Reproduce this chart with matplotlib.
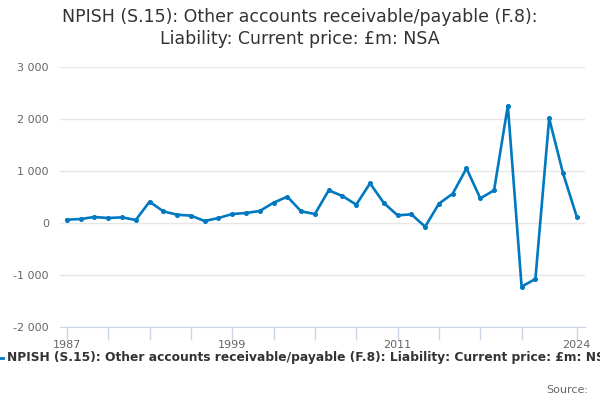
import matplotlib
matplotlib.use('Agg')
import matplotlib.pyplot as plt
from matplotlib.ticker import FuncFormatter

years = list(range(1987, 2025))
values = [64, 77, 115, 96, 109, 58, 410, 224, 160, 141,
          38, 96, 173, 192, 231, 391, 506, 224, 173, 628,
          519, 353, 763, 385, 147, 167, -71, 372, 564, 1051,
          474, 628, 2256, -1224, -1077, 2013, 962, 122]

tick_years = list(range(1987, 2021, 3)) + [2024]
label_years = [1987, 1999, 2011, 2024]

title = 'NPISH (S.15): Other accounts receivable/payable (F.8):\nLiability: Current price: £m: NSA'
series_name = 'NPISH (S.15): Other accounts receivable/payable (F.8): Liability: Current price: £m: NSA'

line_col = '#0079c1'

fig = plt.figure(figsize=(6, 4), dpi=100)
ax = fig.add_axes([60 / 600, 1 - 327 / 400, 525 / 600, 260 / 400])

ax.plot(years, values, color=line_col, lw=1.9, marker='o', ms=2.6)

ax.set_xlim(1987 - 0.5, 2024 + 0.6)
ax.set_ylim(-2000, 3000)
ax.set_yticks(range(-2000, 3001, 1000))
ax.yaxis.set_major_formatter(FuncFormatter(lambda v, p: '{:,}'.format(int(v)).replace(',', ' ')))
ax.grid(axis='y', color='#e6e6e6', lw=1)
ax.set_axisbelow(True)

ax.set_xticks(tick_years)
ax.set_xticklabels([str(y) if y in label_years else '' for y in tick_years])
ax.tick_params(axis='x', length=9, color='#ccd6eb', width=1, labelsize=8, labelcolor='#666666', pad=0)
ax.tick_params(axis='y', length=0, labelsize=8, labelcolor='#666666', pad=8)

for s in ['top', 'right', 'left']:
    ax.spines[s].set_visible(False)
ax.spines['bottom'].set_color('#ccd6eb')
ax.spines['bottom'].set_position(('data', -2000))

fig.text(0.5, 1 - 28 / 400, title, ha='center', va='center', fontsize=12.5,
         color='#333333', linespacing=1.35)

# legend (wider than the figure, as in the original)
fig.add_artist(plt.Line2D([-10 / 600, 3 / 600], [1 - 358 / 400] * 2, color=line_col, lw=2,
                          transform=fig.transFigure))
fig.text(7 / 600, 1 - 358 / 400, series_name, ha='left', va='center', fontsize=8.8,
         fontweight='bold', color='#333333')
fig.text(588 / 600, 1 - 390 / 400, 'Source:', ha='right', va='center', fontsize=8,
         color='#666666')

fig.savefig('out.png', dpi=100)
